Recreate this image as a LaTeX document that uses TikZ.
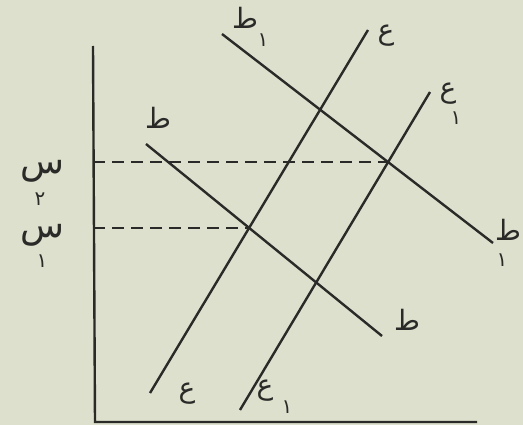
\documentclass[tikz,border=0pt]{standalone}
\usepackage{fontspec}
\newfontfamily\arabicfont[Script=Arabic]{DejaVu Sans}
\usetikzlibrary{intersections}
\definecolor{paper}{RGB}{221,224,205}
\definecolor{ink}{RGB}{42,42,40}
\begin{document}
\begin{tikzpicture}[x=1pt,y=-1pt,
  curve/.style={ink,line width=2.4pt},
  guide/.style={ink,line width=2pt,dash pattern=on 12pt off 7pt},
  lbl/.style={ink,font=\arabicfont\fontsize{28}{30}\selectfont,inner sep=0pt},
  big/.style={ink,font=\arabicfont\fontsize{36}{38}\selectfont,inner sep=0pt,text height=10pt,text depth=6pt},
  sub/.style={ink,font=\arabicfont\fontsize{20}{22}\selectfont,inner sep=0pt}]
\fill[paper] (0,0) rectangle (523,425);
\useasboundingbox (0,0) rectangle (523,425);
% axes
\coordinate (top) at (93,46);
\coordinate (org) at (95,422);
\coordinate (xend) at (477,422);
\draw[curve] (top) -- (org) -- (xend);
% curves
\coordinate (D0) at (146,144);  \coordinate (D1) at (382,336);
\coordinate (E0) at (222,34);   \coordinate (E1) at (493,243);
\coordinate (S0) at (150,393);  \coordinate (S1) at (368,30);
\coordinate (T0) at (240,410);  \coordinate (T1) at (430,92);
\draw[curve,name path=d] (D0) -- (D1);
\draw[curve,name path=e] (E0) -- (E1);
\draw[curve,name path=s] (S0) -- (S1);
\draw[curve,name path=t] (T0) -- (T1);
\path[name intersections={of=d and s,by=P1}];
\path[name intersections={of=e and t,by=P2}];
\draw[guide] (top |- P1) -- (P1);
\draw[guide] (top |- P2) -- (P2);
% labels
\node[lbl] (lS1) at (386,36) {ع};
\node[lbl] (lT1) at (448,94) {ع};
\node[sub] (lT1n) at (456,118) {١};
\node[lbl] (lE0) at (245,18) {ط};
\node[sub] (lE0n) at (263,40) {١};
\node[lbl] (lD0) at (158,118) {ط};
\node[lbl] (lD1) at (407,320) {ط};
\node[lbl] (lE1) at (508,230) {ط};
\node[sub] (lE1n) at (502,260) {١};
\node[lbl] (lS0) at (187,394) {ع};
\node[lbl] (lT0) at (265,391) {ع};
\node[sub] (lT0n) at (287,407) {١};
\node[big] (lp2) at (42,172) {س};
\node[sub] (lp2n) at (40,199) {٢};
\node[big] (lp1) at (42,236) {س};
\node[sub] (lp1n) at (42,261) {١};
\end{tikzpicture}
\end{document}
